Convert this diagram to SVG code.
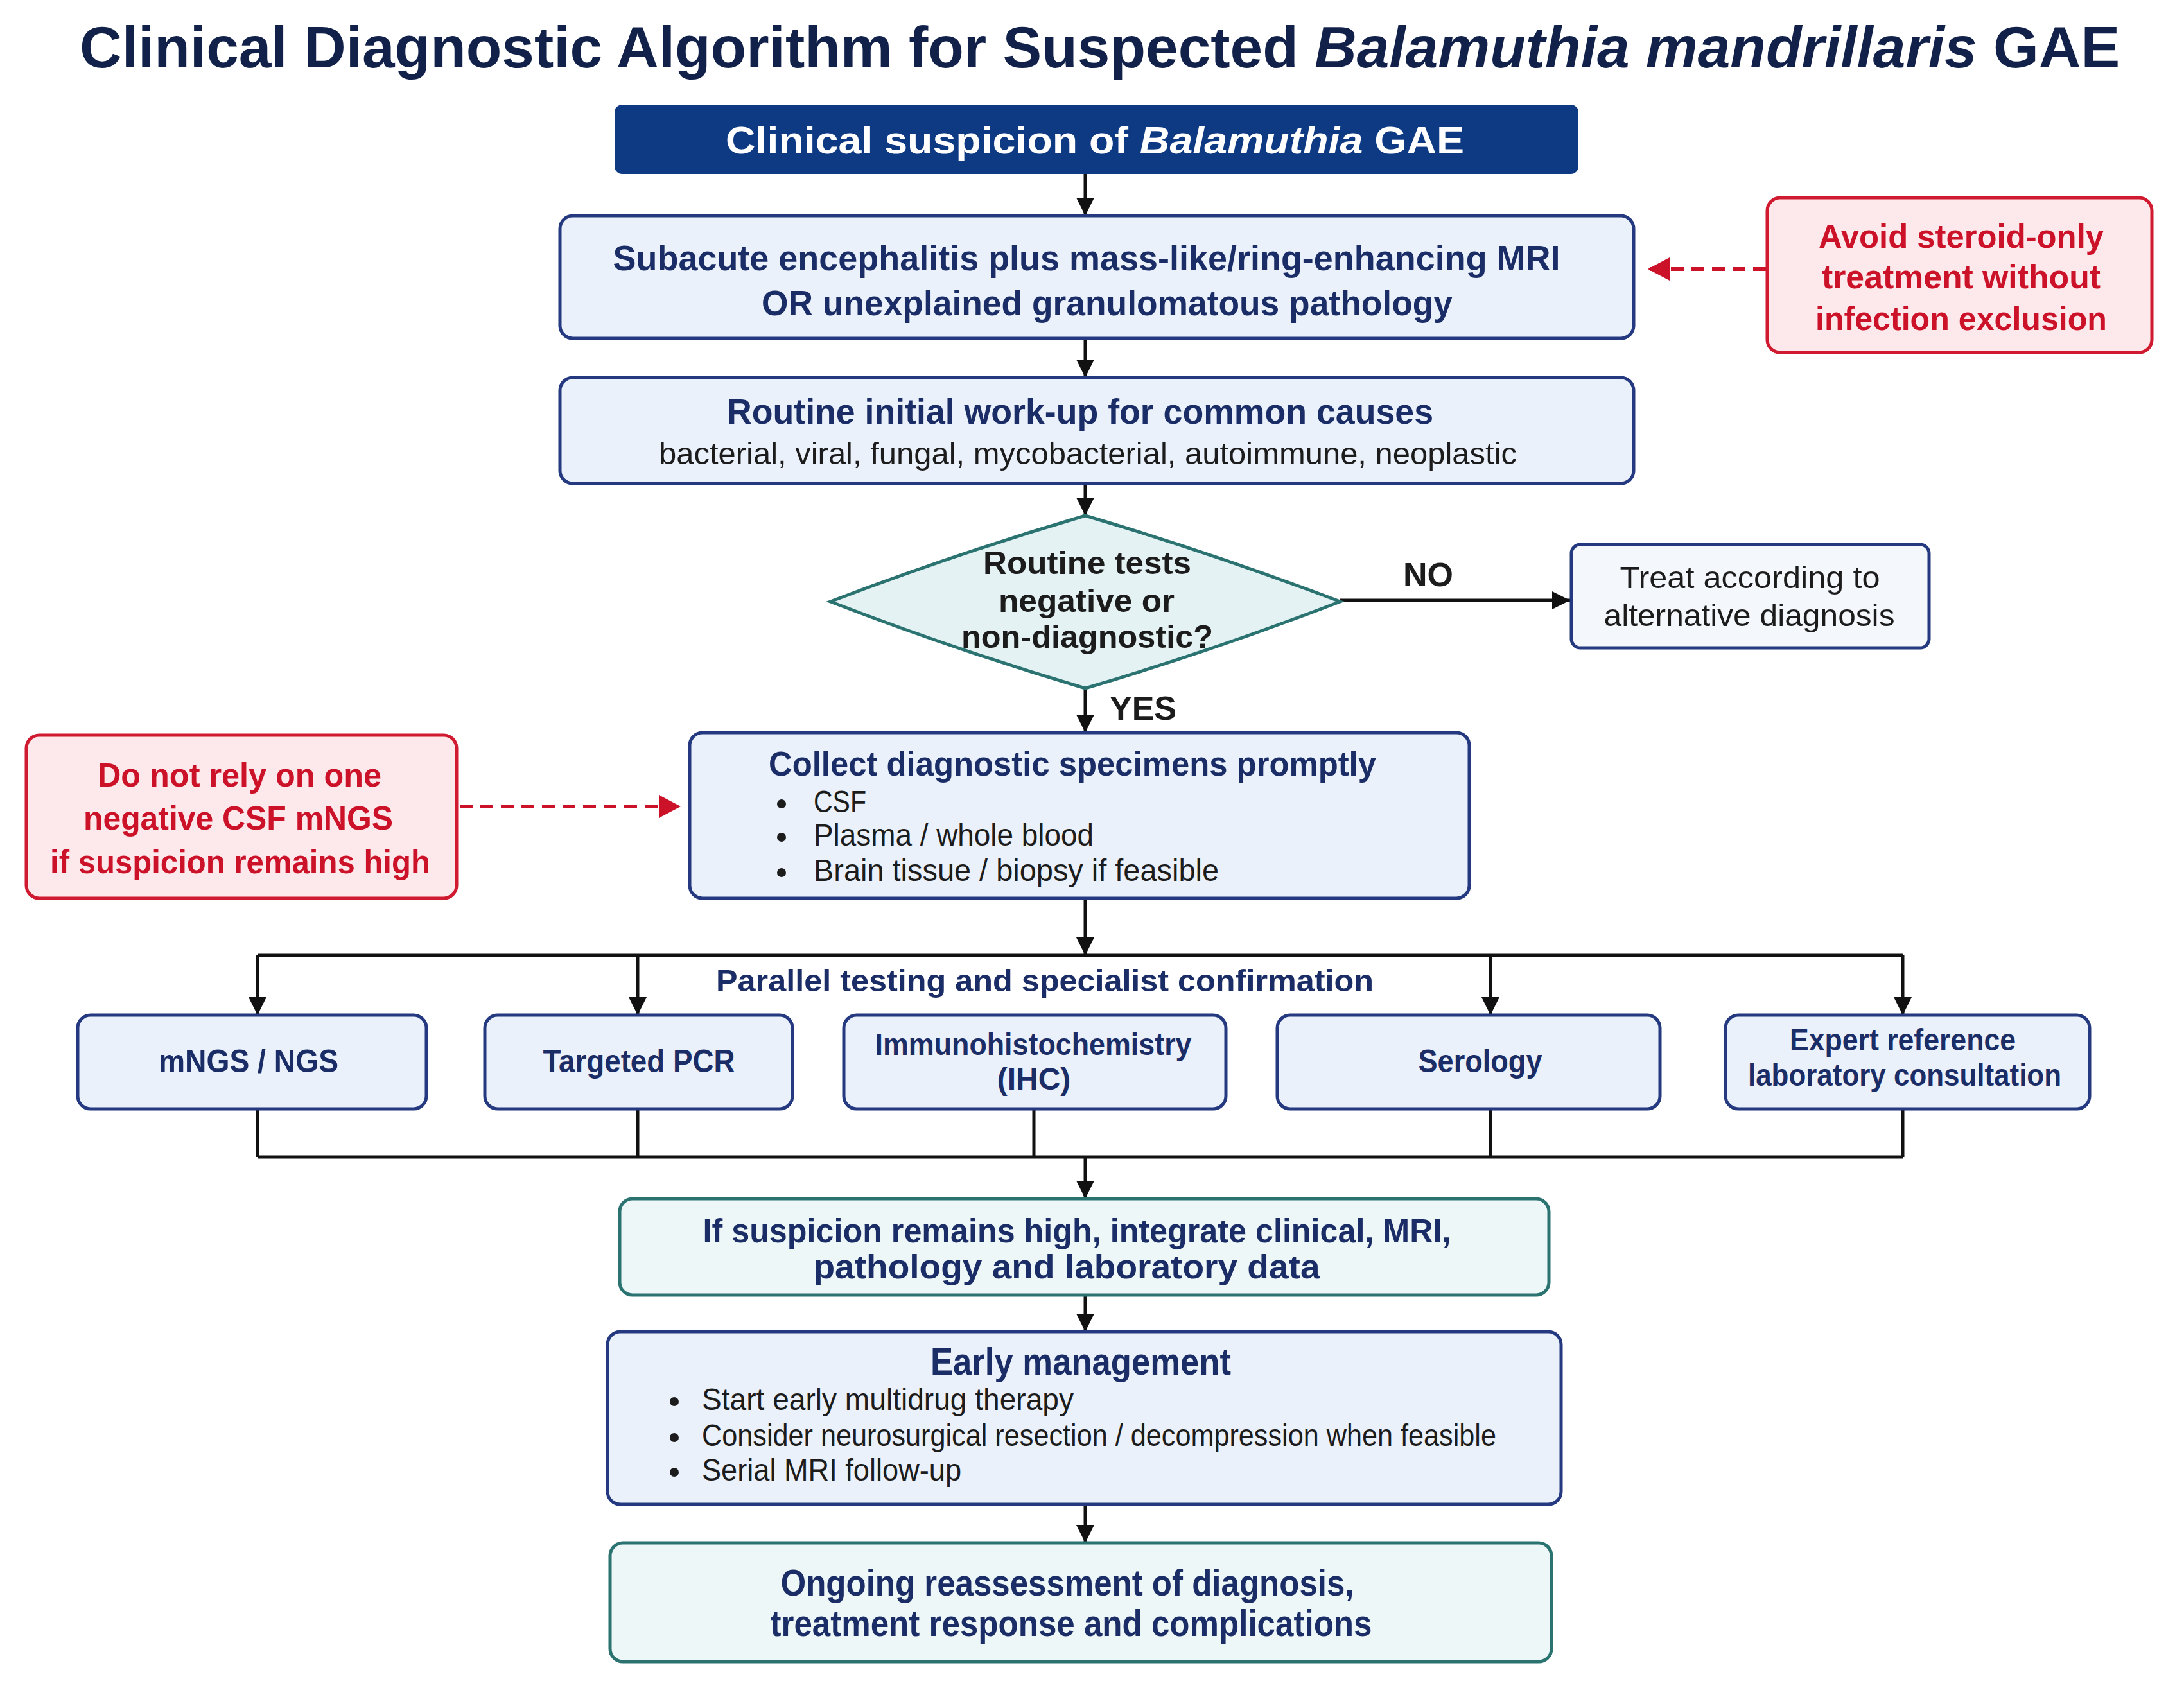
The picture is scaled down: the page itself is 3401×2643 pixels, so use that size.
<svg xmlns="http://www.w3.org/2000/svg" width="3401" height="2643" viewBox="0 0 3401 2643">
<style>
text{font-family:"Liberation Sans",Arial,sans-serif;text-anchor:middle}
.b{font-weight:bold}
.navy{fill:#1b2d66}
.dark{fill:#1c1c1c}
.red{fill:#cc1229}
.ttl{font-weight:bold;fill:#12214a;text-anchor:start}
.box{fill:#eaf1fb;stroke:#24397f;stroke-width:5}
.teal{fill:#eef7f7;stroke:#2b7371;stroke-width:5}
.warn{fill:#fde9eb;stroke:#cf1a2f;stroke-width:5}
.ln{fill:none;stroke:#111;stroke-width:5}
.dash{fill:none;stroke:#cc1229;stroke-width:6;stroke-dasharray:20 12}
.lft{text-anchor:start}
</style>
<defs>
<marker id="ah" markerUnits="userSpaceOnUse" markerWidth="28" markerHeight="32" viewBox="0 0 28 32" refX="28" refY="16" orient="auto"><path d="M0,2 L28,16 L0,30 Z" fill="#111"/></marker>
<marker id="ahr" markerUnits="userSpaceOnUse" markerWidth="34" markerHeight="40" viewBox="0 0 34 40" refX="34" refY="20" orient="auto"><path d="M0,2 L34,20 L0,38 Z" fill="#cc1229"/></marker>
</defs>
<rect width="3401" height="2643" fill="#ffffff"/>
<g id="title">
<text x="124" y="105" font-size="91" class="ttl">Clinical Diagnostic Algorithm for Suspected <tspan font-style="italic">Balamuthia mandrillaris</tspan> GAE</text>
</g>

<g id="connectors">
<line class="ln" x1="1690" y1="271" x2="1690" y2="336" marker-end="url(#ah)"/>
<line class="ln" x1="1690" y1="527" x2="1690" y2="588" marker-end="url(#ah)"/>
<line class="ln" x1="1690" y1="753" x2="1690" y2="803" marker-end="url(#ah)"/>
<line class="ln" x1="2087" y1="935" x2="2445" y2="935" marker-end="url(#ah)"/>
<line class="ln" x1="1690" y1="1072" x2="1690" y2="1141" marker-end="url(#ah)"/>
<line class="dash" x1="2750" y1="419" x2="2566" y2="419" marker-end="url(#ahr)"/>
<line class="dash" x1="716" y1="1256" x2="1060" y2="1256" marker-end="url(#ahr)"/>
<line class="ln" x1="1690" y1="1399" x2="1690" y2="1488" marker-end="url(#ah)"/>
<line class="ln" x1="401" y1="1488" x2="2963" y2="1488"/>
<line class="ln" x1="401" y1="1488" x2="401" y2="1581" marker-end="url(#ah)"/>
<line class="ln" x1="993" y1="1488" x2="993" y2="1581" marker-end="url(#ah)"/>
<line class="ln" x1="2321" y1="1488" x2="2321" y2="1581" marker-end="url(#ah)"/>
<line class="ln" x1="2963" y1="1488" x2="2963" y2="1581" marker-end="url(#ah)"/>
<path class="ln" d="M401,1727 V1802 M993,1727 V1802 M1610,1727 V1802 M2321,1727 V1802 M2963,1727 V1802 M401,1802 H2963"/>
<line class="ln" x1="1690" y1="1802" x2="1690" y2="1867" marker-end="url(#ah)"/>
<line class="ln" x1="1690" y1="2017" x2="1690" y2="2074" marker-end="url(#ah)"/>
<line class="ln" x1="1690" y1="2343" x2="1690" y2="2403" marker-end="url(#ah)"/>
<text x="2224" y="913" font-size="52" class="b dark">NO</text>
<text x="1780" y="1121" font-size="52" class="b dark">YES</text>
<text x="1627" y="1544" font-size="48" class="b navy" textLength="1024" lengthAdjust="spacingAndGlyphs">Parallel testing and specialist confirmation</text>
</g>

<g id="start">
<rect x="957" y="163" width="1501" height="108" rx="12" fill="#0e3a84"/>
<text x="1705" y="239" font-size="60" class="b" fill="#ffffff" textLength="1150" lengthAdjust="spacingAndGlyphs">Clinical suspicion of <tspan font-style="italic">Balamuthia</tspan> GAE</text>
</g>

<g id="criteria">
<rect class="box" x="872" y="336" width="1672" height="191" rx="20"/>
<text x="1692" y="421" font-size="55" class="b navy" textLength="1475" lengthAdjust="spacingAndGlyphs">Subacute encephalitis plus mass-like/ring-enhancing MRI</text>
<text x="1724" y="491" font-size="55" class="b navy" textLength="1076" lengthAdjust="spacingAndGlyphs">OR unexplained granulomatous pathology</text>
</g>

<g id="warn-steroid">
<rect class="warn" x="2752" y="308" width="599" height="241" rx="20"/>
<text x="3054" y="386" font-size="52" class="b red" textLength="444" lengthAdjust="spacingAndGlyphs">Avoid steroid-only</text>
<text x="3054" y="449" font-size="52" class="b red" textLength="434" lengthAdjust="spacingAndGlyphs">treatment without</text>
<text x="3054" y="514" font-size="52" class="b red" textLength="454" lengthAdjust="spacingAndGlyphs">infection exclusion</text>
</g>

<g id="workup">
<rect class="box" x="872" y="588" width="1672" height="165" rx="20"/>
<text x="1682" y="660" font-size="55" class="b navy" textLength="1100" lengthAdjust="spacingAndGlyphs">Routine initial work-up for common causes</text>
<text x="1694" y="723" font-size="48" class="dark" textLength="1336" lengthAdjust="spacingAndGlyphs">bacterial, viral, fungal, mycobacterial, autoimmune, neoplastic</text>
</g>

<g id="decision">
<path d="M1690,803 Q1890,862 2087,937 Q1890,1013 1690,1072 Q1490,1013 1293,937 Q1490,862 1690,803 Z" fill="#e4f2f4" stroke="#2b7371" stroke-width="5"/>
<text x="1693" y="894" font-size="50" class="b dark" textLength="324" lengthAdjust="spacingAndGlyphs">Routine tests</text>
<text x="1692" y="953" font-size="50" class="b dark" textLength="274" lengthAdjust="spacingAndGlyphs">negative or</text>
<text x="1693" y="1009" font-size="50" class="b dark" textLength="392" lengthAdjust="spacingAndGlyphs">non-diagnostic?</text>
</g>

<g id="alternative">
<rect x="2447" y="848" width="557" height="161" rx="14" fill="#f4f8fd" stroke="#24397f" stroke-width="5"/>
<text x="2725" y="916" font-size="48" class="dark" textLength="405" lengthAdjust="spacingAndGlyphs">Treat according to</text>
<text x="2724" y="975" font-size="48" class="dark" textLength="453" lengthAdjust="spacingAndGlyphs">alternative diagnosis</text>
</g>

<g id="warn-mngs">
<rect class="warn" x="41" y="1145" width="670" height="254" rx="20"/>
<text x="373" y="1225" font-size="52" class="b red" textLength="442" lengthAdjust="spacingAndGlyphs">Do not rely on one</text>
<text x="371" y="1292" font-size="52" class="b red" textLength="482" lengthAdjust="spacingAndGlyphs">negative CSF mNGS</text>
<text x="374" y="1360" font-size="52" class="b red" textLength="592" lengthAdjust="spacingAndGlyphs">if suspicion remains high</text>
</g>

<g id="collect">
<rect class="box" x="1074" y="1141" width="1214" height="258" rx="20"/>
<text x="1670" y="1208" font-size="53" class="b navy" textLength="946" lengthAdjust="spacingAndGlyphs">Collect diagnostic specimens promptly</text>
<circle cx="1217" cy="1252" r="7" fill="#1c1c1c"/>
<circle cx="1217" cy="1304" r="7" fill="#1c1c1c"/>
<circle cx="1217" cy="1359" r="7" fill="#1c1c1c"/>
<text x="1267" y="1265" font-size="48" class="dark lft" textLength="82" lengthAdjust="spacingAndGlyphs">CSF</text>
<text x="1267" y="1317" font-size="48" class="dark lft" textLength="436" lengthAdjust="spacingAndGlyphs">Plasma / whole blood</text>
<text x="1267" y="1372" font-size="48" class="dark lft" textLength="631" lengthAdjust="spacingAndGlyphs">Brain tissue / biopsy if feasible</text>
</g>

<g id="mngs">
<rect class="box" x="121" y="1581" width="543" height="146" rx="20"/>
<text x="387" y="1670" font-size="50" class="b navy" textLength="280" lengthAdjust="spacingAndGlyphs">mNGS / NGS</text>
</g>
<g id="pcr">
<rect class="box" x="755" y="1581" width="479" height="146" rx="20"/>
<text x="995" y="1670" font-size="50" class="b navy" textLength="299" lengthAdjust="spacingAndGlyphs">Targeted PCR</text>
</g>
<g id="ihc">
<rect class="box" x="1314" y="1581" width="595" height="146" rx="20"/>
<text x="1609" y="1643" font-size="48" class="b navy" textLength="493" lengthAdjust="spacingAndGlyphs">Immunohistochemistry</text>
<text x="1610" y="1697" font-size="48" class="b navy">(IHC)</text>
</g>
<g id="serology">
<rect class="box" x="1989" y="1581" width="596" height="146" rx="20"/>
<text x="2305" y="1670" font-size="50" class="b navy" textLength="193" lengthAdjust="spacingAndGlyphs">Serology</text>
</g>
<g id="expert">
<rect class="box" x="2687" y="1581" width="567" height="146" rx="20"/>
<text x="2963" y="1636" font-size="48" class="b navy" textLength="352" lengthAdjust="spacingAndGlyphs">Expert reference</text>
<text x="2966" y="1691" font-size="48" class="b navy" textLength="488" lengthAdjust="spacingAndGlyphs">laboratory consultation</text>
</g>

<g id="integrate">
<rect class="teal" x="965" y="1867" width="1447" height="150" rx="20"/>
<text x="1677" y="1935" font-size="51" class="b navy" textLength="1165" lengthAdjust="spacingAndGlyphs">If suspicion remains high, integrate clinical, MRI,</text>
<text x="1661" y="1991" font-size="51" class="b navy" textLength="789" lengthAdjust="spacingAndGlyphs">pathology and laboratory data</text>
</g>

<g id="management">
<rect class="box" x="946" y="2074" width="1485" height="269" rx="20"/>
<text x="1683" y="2141" font-size="60" class="b navy" textLength="468" lengthAdjust="spacingAndGlyphs">Early management</text>
<circle cx="1050" cy="2183" r="7" fill="#1c1c1c"/>
<circle cx="1050" cy="2239" r="7" fill="#1c1c1c"/>
<circle cx="1050" cy="2293" r="7" fill="#1c1c1c"/>
<text x="1093" y="2196" font-size="48" class="dark lft" textLength="579" lengthAdjust="spacingAndGlyphs">Start early multidrug therapy</text>
<text x="1093" y="2252" font-size="48" class="dark lft" textLength="1237" lengthAdjust="spacingAndGlyphs">Consider neurosurgical resection / decompression when feasible</text>
<text x="1093" y="2306" font-size="48" class="dark lft" textLength="404" lengthAdjust="spacingAndGlyphs">Serial MRI follow-up</text>
</g>

<g id="reassess">
<rect class="teal" x="950" y="2403" width="1466" height="185" rx="20"/>
<text x="1662" y="2485" font-size="57" class="b navy" textLength="893" lengthAdjust="spacingAndGlyphs">Ongoing reassessment of diagnosis,</text>
<text x="1668" y="2548" font-size="57" class="b navy" textLength="937" lengthAdjust="spacingAndGlyphs">treatment response and complications</text>
</g>
</svg>
